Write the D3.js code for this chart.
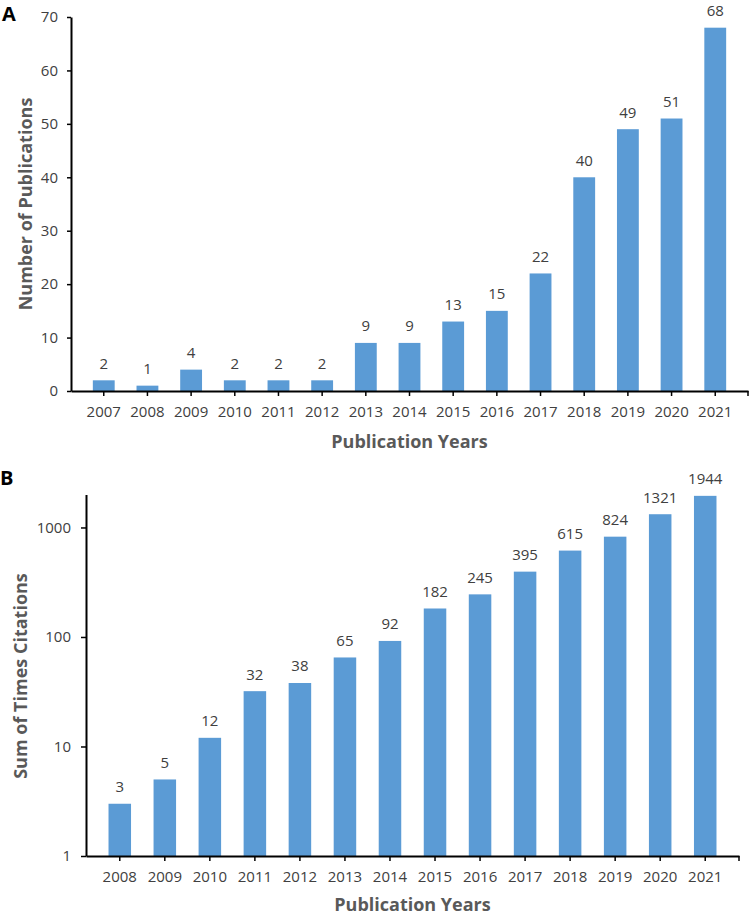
<!DOCTYPE html>
<html>
<head>
<meta charset="utf-8">
<script src="https://cdn.jsdelivr.net/npm/d3@7"></script>
<style>
  body { margin: 0; background: #fff; }
  text { font-family: "Open Sans", "Noto Sans", sans-serif; }
  .axis path, .axis line { stroke: #000; }
</style>
</head>
<body>
<div id="chart"></div>
<script>
// panel A data
var pub_years  = ["2007","2008","2009","2010","2011","2012","2013","2014","2015","2016","2017","2018","2019","2020","2021"];
var pub_counts = [2, 1, 4, 2, 2, 2, 9, 9, 13, 15, 22, 40, 49, 51, 68];
var pub_ticks  = [0, 10, 20, 30, 40, 50, 60, 70];

// panel B data
var cit_years  = ["2008","2009","2010","2011","2012","2013","2014","2015","2016","2017","2018","2019","2020","2021"];
var cit_counts = [3, 5, 12, 32, 38, 65, 92, 182, 245, 395, 615, 824, 1321, 1944];
var cit_ticks  = [1, 10, 100, 1000];

var bar_color = "#5b9bd5";
var text_color = "#404040";
var title_color = "#595959";

var svg = d3.select("#chart").append("svg")
  .attr("width", 754)
  .attr("height", 916);

function draw_panel(opt)
{
  var g = svg.append("g");

  var scalex = d3.scaleBand().domain(opt.years).range([opt.left, opt.right]).padding(0.5);
  var scaley = opt.y;

  // bars
  g.selectAll("rect.bar")
    .data(opt.values)
    .enter()
    .append("rect")
    .attr("class", "bar")
    .attr("x", function (d, i) { return scalex(opt.years[i]); })
    .attr("y", function (d) { return scaley(d); })
    .attr("width", scalex.bandwidth())
    .attr("height", function (d) { return opt.bottom - scaley(d); })
    .attr("fill", bar_color);

  // value labels
  g.selectAll("text.val")
    .data(opt.values)
    .enter()
    .append("text")
    .attr("class", "val")
    .attr("x", function (d, i) { return scalex(opt.years[i]) + scalex.bandwidth() / 2; })
    .attr("y", function (d) { return scaley(d) - 11.5; })
    .attr("text-anchor", "middle")
    .attr("font-size", 15)
    .attr("fill", text_color)
    .text(function (d) { return d; });

  // y axis
  var y_axis = d3.axisLeft(scaley)
    .tickValues(opt.ticks)
    .tickFormat(d3.format("d"))
    .tickSize(opt.ytick)
    .tickSizeOuter(0)
    .tickPadding(opt.ypad);
  var ya = g.append("g")
    .attr("class", "axis y_axis")
    .attr("transform", "translate(" + opt.left + ",0)")
    .call(y_axis);
  ya.select(".domain").attr("stroke-width", 2);
  ya.selectAll(".tick line").attr("stroke-width", 1.5);
  ya.selectAll(".tick text")
    .attr("font-size", 15)
    .attr("font-family", "Open Sans")
    .attr("fill", text_color);

  // x axis
  var x_axis = d3.axisBottom(scalex).tickSize(5).tickSizeOuter(0).tickPadding(10);
  var xa = g.append("g")
    .attr("class", "axis x_axis")
    .attr("transform", "translate(0," + opt.bottom + ")")
    .call(x_axis);
  xa.select(".domain").attr("stroke-width", 2);
  xa.selectAll(".tick line").attr("stroke-width", 1.5);
  xa.selectAll(".tick text")
    .attr("font-size", 15)
    .attr("font-family", "Open Sans")
    .attr("fill", text_color);
  xa.append("line")
    .attr("x1", scalex.range()[1]).attr("x2", scalex.range()[1])
    .attr("y1", 0).attr("y2", 5)
    .attr("stroke", "#000").attr("stroke-width", 1.5);

  // axis titles
  g.append("text")
    .attr("x", (opt.left + opt.right) / 2)
    .attr("y", opt.xtitle_y)
    .attr("text-anchor", "middle")
    .attr("font-size", 18)
    .attr("font-weight", "bold")
    .attr("fill", title_color)
    .text("Publication Years");

  g.append("text")
    .attr("transform", "translate(" + opt.ytitle_x + "," + opt.ytitle_y + ") rotate(-90)")
    .attr("text-anchor", "middle")
    .attr("dominant-baseline", "central")
    .attr("font-size", 18)
    .attr("font-weight", "bold")
    .attr("fill", title_color)
    .text(opt.ytitle);

  // panel letter
  g.append("text")
    .attr("x", opt.letter_x)
    .attr("y", opt.letter_y)
    .attr("font-family", "Liberation Sans, Arial, sans-serif")
    .attr("font-size", 20)
    .attr("font-weight", "bold")
    .attr("fill", "#000")
    .text(opt.letter);
}

draw_panel({
  years: pub_years, values: pub_counts, ticks: pub_ticks,
  left: 71, right: 748, bottom: 391,
  y: d3.scaleLinear().domain([0, 70]).range([391, 17]),
  ytick: 4, ypad: 9,
  xtitle_y: 448, ytitle_x: 25, ytitle_y: 204,
  ytitle: "Number of Publications",
  letter: "A", letter_x: 2, letter_y: 21
});

draw_panel({
  years: cit_years, values: cit_counts, ticks: cit_ticks,
  left: 86, right: 739, bottom: 856,
  y: d3.scaleLog().domain([1, 2000]).range([856, 494.5]),
  ytick: 5, ypad: 10,
  xtitle_y: 911, ytitle_x: 20, ytitle_y: 676,
  ytitle: "Sum of Times Citations",
  letter: "B", letter_x: 0, letter_y: 485
});
</script>
</body>
</html>
